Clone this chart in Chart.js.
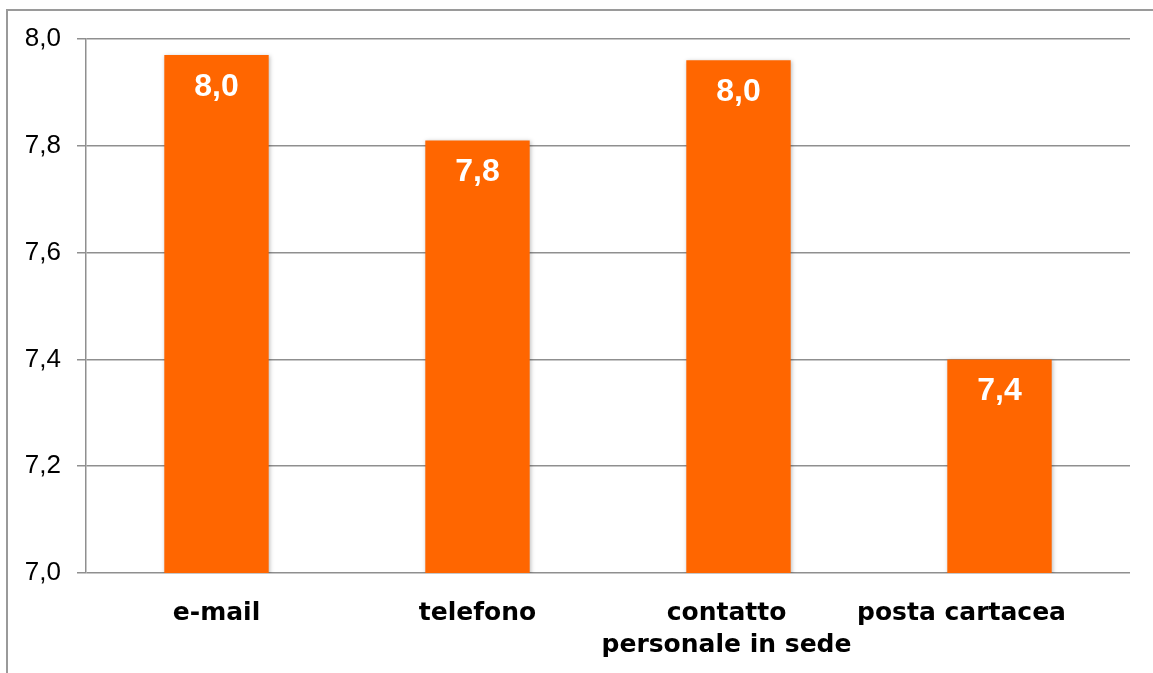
<!DOCTYPE html>
<html>
<head>
<meta charset="utf-8">
<script src="https://cdn.jsdelivr.net/npm/chart.js@4"></script>
<style>
  html, body { margin: 0; padding: 0; background: #ffffff; }
  #wrap { position: relative; width: 1153px; height: 673px; overflow: hidden; }
  #frame { position: absolute; left: 6px; top: 9px; width: 1300px; height: 800px;
           border-left: 2px solid #9a9a9a; border-top: 2px solid #9a9a9a; pointer-events: none; }
  canvas { position: absolute; left: 0; top: 0; }
</style>
</head>
<body>
<div id="wrap">
  <div id="frame"></div>
  <canvas id="c" width="1153" height="673"></canvas>
</div>
<script>
const categories = ["e-mail", "telefono", ["contatto", "personale in sede"], "posta cartacea"];
const values = [7.97, 7.81, 7.96, 7.40];
const yTicks = [7.0, 7.2, 7.4, 7.6, 7.8, 8.0];
// horizontal nudges of the category labels (px), as laid out in the original
const labelShift = [0, 0, -12, -38];

const fmt = v => v.toFixed(1).replace('.', ',');

const barPlugin = {
  id: 'barExtras',
  beforeDatasetsDraw(chart) {
    const ctx = chart.ctx;
    ctx.save();
    ctx.shadowColor = 'rgba(0,0,0,0.25)';
    ctx.shadowBlur = 4;
    ctx.shadowOffsetX = 1;
    ctx.shadowOffsetY = 1;
  },
  afterDatasetsDraw(chart) {
    chart.ctx.restore();
    const ctx = chart.ctx;
    const meta = chart.getDatasetMeta(0);
    ctx.save();
    ctx.fillStyle = '#ffffff';
    ctx.font = 'bold 32px "Liberation Sans", Arial, sans-serif';
    ctx.textAlign = 'center';
    ctx.textBaseline = 'middle';
    meta.data.forEach((bar, i) => {
      ctx.fillText(fmt(values[i]), bar.x, bar.y + 32);
    });
    ctx.restore();
  },
  afterDraw(chart) {
    const ctx = chart.ctx;
    const xs = chart.scales.x;
    const base = chart.chartArea.bottom;
    ctx.save();
    ctx.fillStyle = '#000000';
    ctx.font = 'bold 25px "DejaVu Sans", sans-serif';
    ctx.textAlign = 'center';
    ctx.textBaseline = 'middle';
    categories.forEach((lab, i) => {
      const lines = Array.isArray(lab) ? lab : [lab];
      const x = xs.getPixelForValue(i) + labelShift[i];
      lines.forEach((t, k) => ctx.fillText(t, x, base + 40 + k * 32));
    });
    ctx.restore();
  }
};

new Chart(document.getElementById('c'), {
  type: 'bar',
  data: {
    labels: categories,
    datasets: [{
      data: values,
      backgroundColor: '#FF6600',
      borderWidth: 0,
      barPercentage: 0.4,
      categoryPercentage: 1.0
    }]
  },
  options: {
    responsive: false,
    animation: false,
    events: [],
    layout: { padding: { left: 0, right: 23, top: 39, bottom: 0 } },
    plugins: { legend: { display: false }, tooltip: { enabled: false } },
    scales: {
      y: {
        min: 7.0,
        max: 8.0,
        afterFit(scale) { scale.width = 86; },
        afterBuildTicks(scale) { scale.ticks = yTicks.map(v => ({ value: v })); },
        ticks: {
          padding: 16,
          color: '#000000',
          font: { family: '"Liberation Sans", Arial, sans-serif', size: 26 },
          callback: v => fmt(v)
        },
        grid: { color: '#8f8f8f', lineWidth: 1.5, tickLength: 9, drawTicks: true },
        border: { display: true, color: '#8f8f8f', width: 1.5 }
      },
      x: {
        afterFit(scale) { scale.height = 100; },
        grid: { display: false, drawTicks: false },
        border: { display: false },
        ticks: { display: false }
      }
    }
  },
  plugins: [barPlugin]
});
</script>
</body>
</html>
